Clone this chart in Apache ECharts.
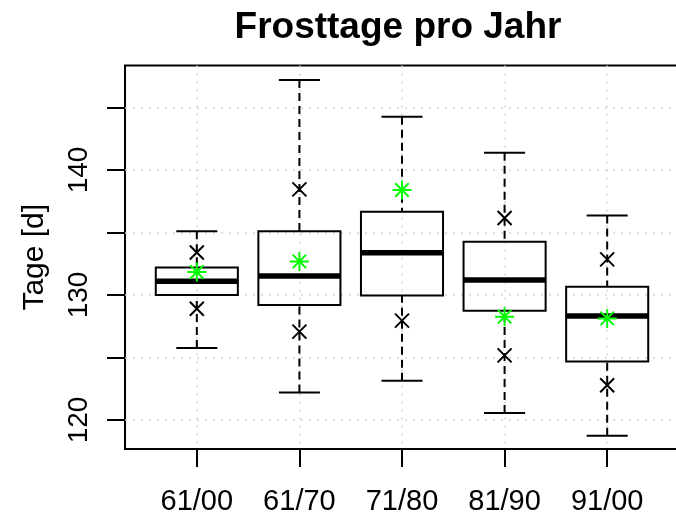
<!DOCTYPE html>
<html>
<head>
<meta charset="utf-8">
<script src="https://cdn.jsdelivr.net/npm/echarts@6/dist/echarts.min.js"></script>
<style>
  html, body { margin: 0; padding: 0; background: #ffffff; }
  #chart { width: 676px; height: 519px; }
</style>
</head>
<body>
<div id="chart"></div>
<script>
// ---- data ----
var categories = ['61/00', '61/70', '71/80', '81/90', '91/00'];
// box statistics: lower whisker, Q1, median, Q3, upper whisker
var whiskerLow  = [125.76, 122.2, 123.15, 120.56, 118.75];
var quart1      = [130.0, 129.2, 129.97, 128.75, 124.69];
var medians     = [131.1, 131.52, 133.39, 131.2, 128.32];
var quart3      = [132.2, 135.1, 136.67, 134.27, 130.67];
var whiskerHigh = [135.1, 147.2, 144.27, 141.39, 136.37];
// black "x" markers: [category index (1-based), value]
var crossPoints = [
  [1, 133.4], [1, 128.9],
  [2, 138.45], [2, 127.07],
  [3, 127.95],
  [4, 136.16], [4, 125.17],
  [5, 132.85], [5, 122.78]
];
// green asterisks (one per category)
var starValues = [131.84, 132.69, 138.4, 128.27, 128.13];
var yTicks  = [120, 125, 130, 135, 140, 145];
var yLabels = [120, 130, 140];

// ---- build ----
var FONT = '"Liberation Sans", Arial, Helvetica, sans-serif';
var catPos = categories.map(function (c, i) { return i + 1; });
var boxData = catPos.map(function (x, i) {
  return [x, whiskerLow[i], quart1[i], medians[i], quart3[i], whiskerHigh[i]];
});
var starData = catPos.map(function (x, i) { return [x, starValues[i]]; });

function renderBox(params, api) {
  var x = api.value(0);
  var lo = api.coord([x, api.value(1)]);
  var q1 = api.coord([x, api.value(2)]);
  var md = api.coord([x, api.value(3)]);
  var q3 = api.coord([x, api.value(4)]);
  var hi = api.coord([x, api.value(5)]);
  var hw = api.size([0.8, 0])[0] / 2;
  var sw = hw / 2;
  var cx = q1[0];
  var solid = { stroke: '#000', lineWidth: 2, fill: null };
  var dashed = { stroke: '#000', lineWidth: 2, lineDash: [8, 5], fill: null };
  return {
    type: 'group',
    children: [
      { type: 'line', shape: { x1: cx, y1: hi[1], x2: cx, y2: q3[1] }, style: dashed },
      { type: 'line', shape: { x1: cx, y1: lo[1], x2: cx, y2: q1[1] }, style: dashed },
      { type: 'line', shape: { x1: cx - sw, y1: hi[1], x2: cx + sw, y2: hi[1] }, style: solid },
      { type: 'line', shape: { x1: cx - sw, y1: lo[1], x2: cx + sw, y2: lo[1] }, style: solid },
      { type: 'rect', shape: { x: cx - hw, y: q3[1], width: 2 * hw, height: q1[1] - q3[1] }, style: solid },
      { type: 'line', shape: { x1: cx - hw, y1: md[1], x2: cx + hw, y2: md[1] }, style: { stroke: '#000', lineWidth: 5.5 } }
    ]
  };
}

var chart = echarts.init(document.getElementById('chart'), null, { renderer: 'canvas' });
chart.setOption({
  animation: false,
  backgroundColor: '#ffffff',
  graphic: [{
    type: 'text',
    x: 398,
    y: 27.5,
    style: {
      text: 'Frosttage pro Jahr',
      font: 'bold 37px ' + FONT,
      fill: '#000',
      textAlign: 'center',
      textVerticalAlign: 'middle'
    }
  }],
  grid: {
    left: 125, top: 65.5, width: 554, height: 383.5,
    outerBoundsMode: 'none',
    containLabel: false,
    show: true, borderColor: '#000', borderWidth: 2, backgroundColor: 'transparent'
  },
  xAxis: {
    type: 'value',
    min: 0.3, max: 5.7,
    axisLine: { show: false },
    axisTick: { show: true, customValues: catPos, length: 18, lineStyle: { color: '#000', width: 2 } },
    axisLabel: {
      show: true, customValues: catPos, margin: 38,
      fontSize: 29, fontFamily: FONT, color: '#000',
      formatter: function (v) { return categories[Math.round(v) - 1] || ''; }
    },
    splitLine: { show: true, lineStyle: { color: '#d3d3d3', width: 1.5, type: [2, 6] } }
  },
  yAxis: {
    type: 'value',
    min: 117.68, max: 148.36,
    name: 'Tage [d]',
    nameLocation: 'middle',
    nameGap: 75,
    nameTextStyle: { fontSize: 30, fontFamily: FONT, color: '#000' },
    axisLine: { show: false },
    axisTick: { show: true, customValues: yTicks, length: 18, lineStyle: { color: '#000', width: 2 } },
    axisLabel: {
      show: true, customValues: yLabels, rotate: 90, margin: 32,
      fontSize: 28, fontFamily: FONT, color: '#000'
    },
    splitLine: { show: true, lineStyle: { color: '#d3d3d3', width: 1.5, type: [2, 6] } }
  },
  series: [
    {
      type: 'custom',
      renderItem: renderBox,
      data: boxData,
      encode: { x: 0, y: [1, 2, 3, 4, 5] },
      z: 2
    },
    {
      type: 'scatter',
      data: crossPoints,
      symbol: 'path://M0,0L10,10M10,0L0,10',
      symbolSize: 14,
      itemStyle: { color: 'transparent', borderColor: '#000', borderWidth: 2, opacity: 1 },
      z: 3
    },
    {
      type: 'scatter',
      data: starData,
      symbol: 'path://M5,0L5,10M0,5L10,5M1.4645,1.4645L8.5355,8.5355M8.5355,1.4645L1.4645,8.5355',
      symbolSize: 19,
      itemStyle: { color: 'transparent', borderColor: '#00ff00', borderWidth: 2, opacity: 1 },
      z: 4
    }
  ]
});
</script>
</body>
</html>
